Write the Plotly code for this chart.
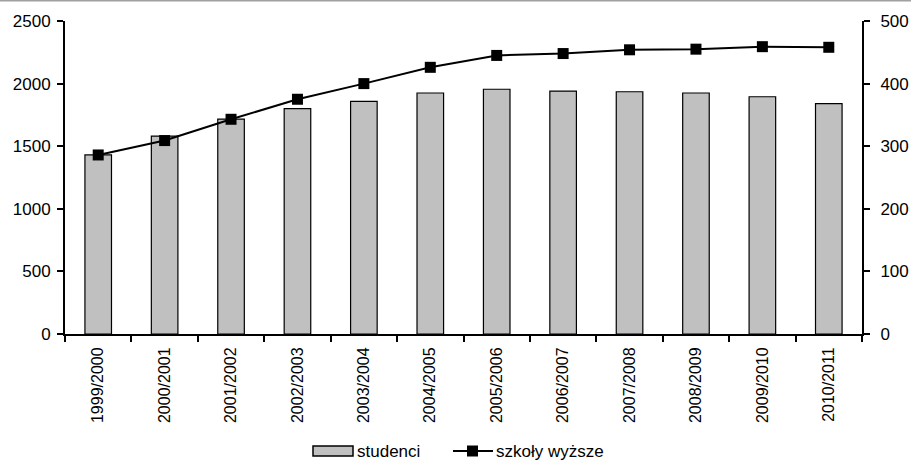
import plotly.graph_objects as go

categories = ["1999/2000", "2000/2001", "2001/2002", "2002/2003", "2003/2004", "2004/2005",
              "2005/2006", "2006/2007", "2007/2008", "2008/2009", "2009/2010", "2010/2011"]
studenci = [1430, 1581, 1717, 1800, 1858, 1925, 1955, 1940, 1935, 1925, 1895, 1840]
szkoly = [286, 309, 343, 375, 400, 426, 445, 448, 454, 455, 459, 458]
left_ticks = [0, 500, 1000, 1500, 2000, 2500]
right_ticks = [0, 100, 200, 300, 400, 500]
legend_names = ["studenci", "szkoły wyższe"]

W, H = 911, 463
L, R, T, B = 65, 49, 21, 129
pw, ph = W - L - R, H - T - B


def px(x):
    return (x - L) / pw


def py(y):
    return (H - B - y) / ph


fig = go.Figure()
fig.add_trace(go.Bar(
    x=categories, y=studenci, name=legend_names[0],
    marker=dict(color="#c0c0c0", line=dict(color="black", width=1.2)),
    yaxis="y",
))
fig.add_trace(go.Scatter(
    x=categories, y=szkoly, name=legend_names[1], mode="lines+markers",
    line=dict(color="black", width=2),
    marker=dict(symbol="square", size=11, color="black"),
    yaxis="y2",
))

font = dict(family="Liberation Sans, Arial, sans-serif", size=17, color="black")
axis_common = dict(ticks="outside", ticklen=6, tickwidth=1.5, tickcolor="black",
                   showline=True, linecolor="black", linewidth=2,
                   showgrid=False, zeroline=False, automargin=False)

# custom legend
leg_y = 451
shapes = [
    dict(type="line", xref="paper", yref="paper", x0=px(0), x1=px(W),
         y0=py(0.75), y1=py(0.75), line=dict(color="#a0a0a0", width=1.5)),
    dict(type="rect", xref="paper", yref="paper", x0=px(313), x1=px(353),
         y0=py(leg_y - 5), y1=py(leg_y + 5), fillcolor="#c0c0c0", line=dict(color="black", width=1.5)),
    dict(type="line", xref="paper", yref="paper", x0=px(453), x1=px(493),
         y0=py(leg_y), y1=py(leg_y), line=dict(color="black", width=2)),
    dict(type="rect", xref="paper", yref="paper", x0=px(467), x1=px(478),
         y0=py(leg_y - 5.5), y1=py(leg_y + 5.5), fillcolor="black", line=dict(color="black", width=0)),
]
annotations = [
    dict(xref="paper", yref="paper", x=px(355), y=py(leg_y), text=legend_names[0], showarrow=False,
         xanchor="left", yanchor="middle", font=dict(size=17)),
    dict(xref="paper", yref="paper", x=px(494), y=py(leg_y), text=legend_names[1], showarrow=False,
         xanchor="left", yanchor="middle", font=dict(size=17)),
]

fig.update_layout(
    width=W, height=H,
    margin=dict(l=L, r=R, t=T, b=B),
    paper_bgcolor="white", plot_bgcolor="white",
    font=font,
    bargap=0.6,
    showlegend=False,
    xaxis=dict(type="category", range=[-0.5, 11.5], tickson="boundaries", tickangle=-90,
               tickfont=dict(size=16), ticklabelstandoff=5, **axis_common),
    yaxis=dict(range=[0, 2500], tickvals=left_ticks, ticklabelstandoff=3, **axis_common),
    yaxis2=dict(range=[0, 500], tickvals=right_ticks, overlaying="y", side="right",
                ticklabelstandoff=7, **axis_common),
    shapes=shapes,
    annotations=annotations,
)

fig.write_html("out.html", config={"displayModeBar": False},
               post_script="document.body.style.margin='0';document.body.style.overflow='hidden';")
